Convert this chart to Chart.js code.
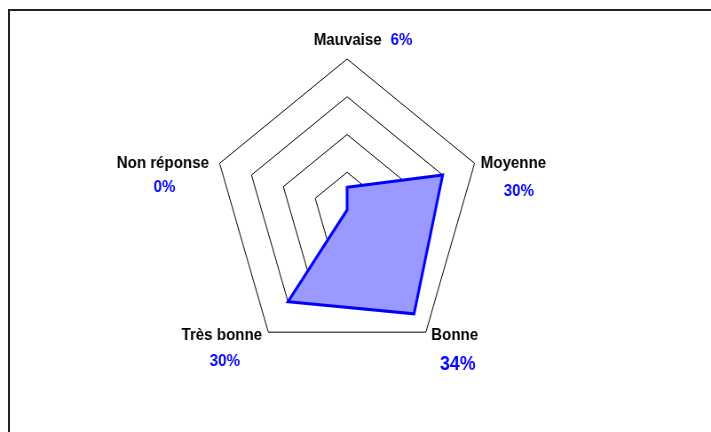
<!DOCTYPE html>
<html>
<head>
<meta charset="utf-8">
<script src="https://cdn.jsdelivr.net/npm/chart.js@4"></script>
<style>
    html, body { margin: 0; padding: 0; background: #fff; overflow: hidden; }
    #wrap { position: relative; width: 711px; height: 432px; }
    #radar { position: absolute; left: 0; top: 0; }
    #frame { position: absolute; left: 8px; top: 9px; width: 760px; height: 480px; border: 2px solid #222; box-sizing: border-box; }
</style>
</head>
<body>
<div id="wrap">
    <div id="frame"></div>
    <!-- the reference is squeezed horizontally, so the canvas is drawn wider and shrunk -->
    <canvas id="radar" width="801" height="432" style="width:711px;height:432px"></canvas>
</div>
<script>
// Data
const categories = ['Mauvaise', 'Moyenne', 'Bonne', 'Très bonne', 'Non réponse'];
const values = [6, 30, 34, 30, 0];
const scaleMax = 40;
const scaleStep = 10;

// Label placement relative to each outer vertex (canvas units)
const labelSpots = [
    { name: [39, -14, 'right'], pct: [49, -14, 'left'], size: 17 },
    { name: [7, 5, 'left'], pct: [50, 33, 'center'], size: 17 },
    { name: [6, 8, 'left'], pct: [36, 38, 'center'], size: 20 },
    { name: [-7, 8, 'right'], pct: [-49, 34, 'center'], size: 17 },
    { name: [-12, 5, 'right'], pct: [-62, 29, 'center'], size: 17 }
];

const cornerLabels = {
    id: 'cornerLabels',
    afterDraw(chart) {
        const scale = chart.scales.r;
        const ctx = chart.ctx;
        ctx.save();
        ctx.textBaseline = 'alphabetic';
        categories.forEach((cat, i) => {
            const p = scale.getPointPosition(i, scale.drawingArea);
            const spot = labelSpots[i];
            ctx.font = 'bold 17px "Liberation Sans", Arial, sans-serif';
            ctx.fillStyle = '#000';
            ctx.textAlign = spot.name[2];
            ctx.fillText(cat, p.x + spot.name[0], p.y + spot.name[1]);

            ctx.font = 'bold ' + spot.size + 'px "Liberation Sans", Arial, sans-serif';
            ctx.fillStyle = '#0000ff';
            ctx.textAlign = spot.pct[2];
            ctx.fillText(values[i] + '%', p.x + spot.pct[0], p.y + spot.pct[1]);
        });
        ctx.restore();
    }
};

new Chart(document.getElementById('radar'), {
    type: 'radar',
    data: {
        labels: categories,
        datasets: [{
            data: values,
            backgroundColor: '#9999ff',
            borderColor: '#0000ff',
            borderWidth: 3,
            borderJoinStyle: 'miter',
            pointRadius: 0,
            pointHoverRadius: 0,
            tension: 0,
            fill: true
        }]
    },
    options: {
        responsive: false,
        devicePixelRatio: 1,
        animation: false,
        layout: { padding: { top: 59, bottom: 71, left: 0, right: 19 } },
        plugins: {
            legend: { display: false },
            tooltip: { enabled: false }
        },
        scales: {
            r: {
                min: 0,
                max: scaleMax,
                ticks: { stepSize: scaleStep, display: false },
                grid: { color: '#000', lineWidth: 1 },
                angleLines: { display: false },
                pointLabels: { display: false }
            }
        }
    },
    plugins: [cornerLabels]
});
</script>
</body>
</html>
